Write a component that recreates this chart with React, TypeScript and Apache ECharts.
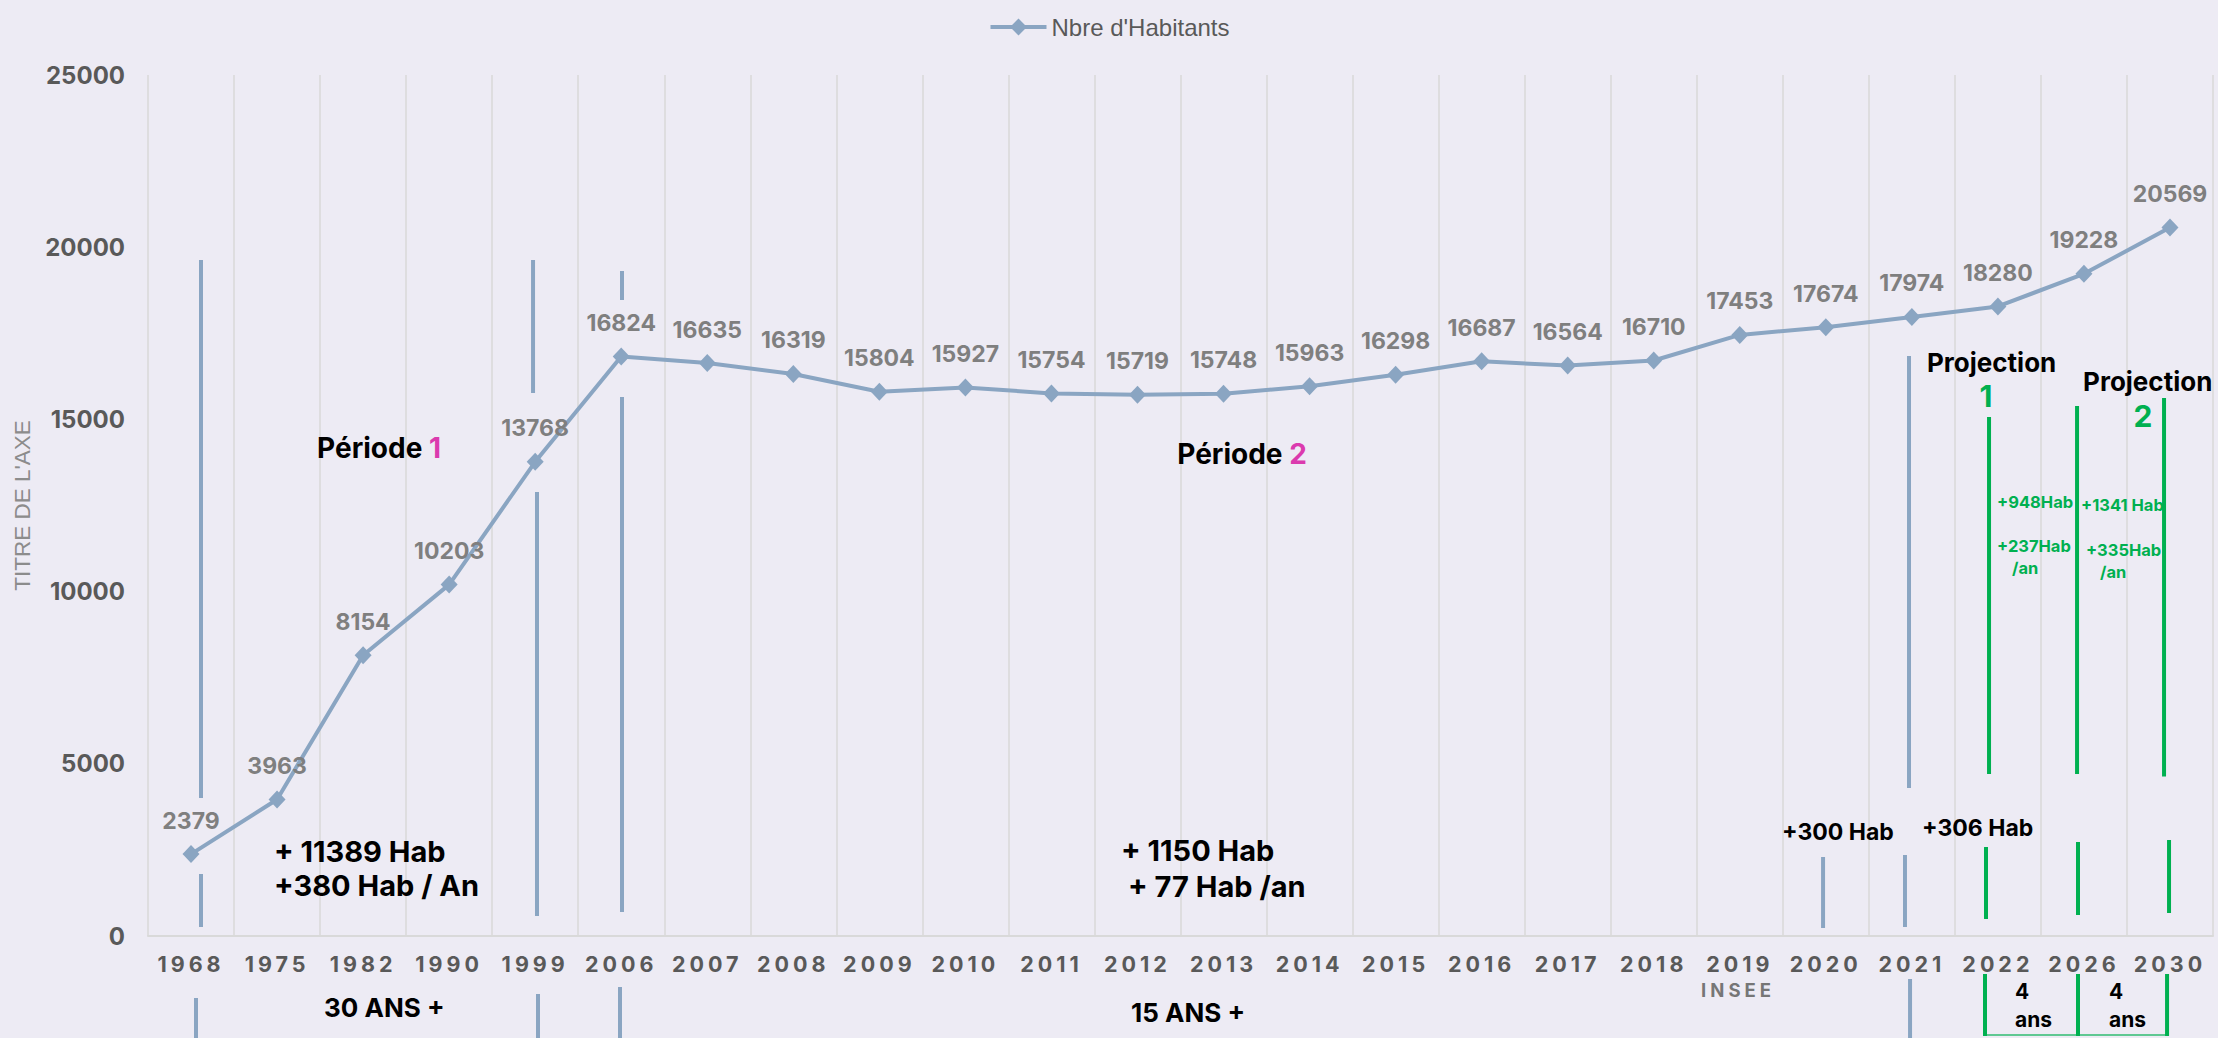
import React, { useEffect, useRef } from "react";
import * as echarts from "echarts";

// ---------- data ----------
const years = [
  "1968", "1975", "1982", "1990", "1999", "2006", "2007", "2008", "2009", "2010", "2011", "2012",
  "2013", "2014", "2015", "2016", "2017", "2018", "2019", "2020", "2021", "2022", "2026", "2030",
];
const habitants = [
  2379, 3963, 8154, 10203, 13768, 16824, 16635, 16319, 15804, 15927, 15754, 15719,
  15748, 15963, 16298, 16687, 16564, 16710, 17453, 17674, 17974, 18280, 19228, 20569,
];
const seriesName = "Nbre d'Habitants";
const yAxisTitle = "TITRE DE L'AXE";
const yMin = 0;
const yMax = 25000;
const yStep = 5000;

// annotation segments in (category position, value) space: [cat, valueTop, valueBottom]
const blueSegments: [number, number, number][] = [
  [0.116, 19628, 4007],
  [0.116, 1800, 261],
  [0.058, -1800, -3100],
  [3.975, 19628, 15767],
  [4.021, 12892, 581],
  [4.033, -1684, -3100],
  [5.009, 19309, 18467],
  [5.009, 15650, 697],
  [4.986, -1481, -3100],
  [18.968, 2294, 232],
  [19.967, 16841, 4297],
  [19.92, 2352, 261],
  [19.979, -1249, -3100],
];
const greenSegments: [number, number, number][] = [
  [20.897, 15070, 4704],
  [20.862, 2584, 494],
  [21.92, 15389, 4704],
  [21.931, 2729, 610],
  [22.931, 15621, 4629],
  [22.989, 2787, 668],
  [20.85, -1103, -2904],
  [21.931, -1103, -2904],
  [22.966, -1103, -2904],
];
const bracketBase: [number, number, number] = [20.85, 22.966, -2875];

type Note = { c: number; v: number; text: string; size: number; align: "left" | "center"; color?: string };
const blackNotes: Note[] = [
  { c: 0.964, v: 2468, text: "+ 11389 Hab", size: 29, align: "left" },
  { c: 0.964, v: 1452, text: "+380 Hab / An", size: 29, align: "left" },
  { c: 10.809, v: 2497, text: "+ 1150 Hab", size: 29, align: "left" },
  { c: 10.89, v: 1423, text: "+ 77 Hab /an", size: 29, align: "left" },
  { c: 1.546, v: -2062, text: "30 ANS +", size: 26, align: "left" },
  { c: 10.925, v: -2207, text: "15 ANS +", size: 26, align: "left" },
  { c: 18.491, v: 3020, text: "+300 Hab", size: 23, align: "left" },
  { c: 20.118, v: 3136, text: "+306 Hab", size: 23, align: "left" },
  { c: 20.176, v: 16638, text: "Projection", size: 26, align: "left" },
  { c: 21.99, v: 16086, text: "Projection", size: 26, align: "left" },
  { c: 21.199, v: -1597, text: "4", size: 21, align: "left" },
  { c: 21.199, v: -2410, text: "ans", size: 21, align: "left" },
  { c: 22.292, v: -1597, text: "4", size: 21, align: "left" },
  { c: 22.292, v: -2410, text: "ans", size: 21, align: "left" },
];
const greenNotes: Note[] = [
  { c: 20.862, v: 15680, text: "1", size: 30, align: "center" },
  { c: 22.687, v: 15099, text: "2", size: 30, align: "center" },
  { c: 20.99, v: 12602, text: "+948Hab", size: 16.5, align: "left" },
  { c: 20.99, v: 11324, text: "+237Hab", size: 16.5, align: "left" },
  { c: 21.164, v: 10685, text: "/an", size: 16.5, align: "left" },
  { c: 21.966, v: 12515, text: "+1341 Hab", size: 16.5, align: "left" },
  { c: 22.024, v: 11208, text: "+335Hab", size: 16.5, align: "left" },
  { c: 22.187, v: 10569, text: "/an", size: 16.5, align: "left" },
];
const periods = [
  { c: 2.185, v: 14170, label: "Période ", num: "1" },
  { c: 12.215, v: 13995, label: "Période ", num: "2" },
];
const sourceNote = { c: 17.98, v: -1568, text: "INSEE" };

// ---------- styles ----------
const BG = "#EDEBF4";
const LINE = "#8AA5C2";
const GREEN = "#00B050";
const MAGENTA = "#DB3AAE";
const FONT = "Inter, 'Noto Sans', sans-serif";
const LIGHT_FONT = "'Liberation Sans', Arial, sans-serif";

const option: any = {
  animation: false,
  backgroundColor: BG,
  textStyle: { fontFamily: FONT },
  legend: {
    top: 10,
    left: "center",
    itemWidth: 56,
    itemHeight: 21,
    lineStyle: { width: 4 },
    textStyle: { fontFamily: LIGHT_FONT, fontWeight: "normal", fontSize: 24, color: "#595959" },
    data: [seriesName],
  },
  grid: { left: 148, right: 5, top: 75, bottom: 102, containLabel: false },
  xAxis: {
    type: "category",
    data: years,
    boundaryGap: true,
    axisLine: { lineStyle: { color: "#D9D9D9", width: 2 } },
    axisTick: { show: false },
    axisLabel: {
      interval: 0,
      margin: 17,
      fontFamily: FONT,
      fontWeight: "bold",
      fontSize: 21.5,
      color: "#595959",
    },
    splitLine: { show: true, interval: 0, lineStyle: { color: "#D9D9D9", width: 1.5 } },
  },
  yAxis: {
    type: "value",
    min: yMin,
    max: yMax,
    interval: yStep,
    name: yAxisTitle,
    nameLocation: "middle",
    nameRotate: 90,
    nameGap: 110,
    nameTextStyle: { fontFamily: LIGHT_FONT, fontWeight: "normal", fontSize: 22.5, color: "#8C8C8C" },
    axisLine: { show: false },
    axisTick: { show: false },
    splitLine: { show: false },
    axisLabel: {
      margin: 23,
      fontFamily: FONT,
      fontWeight: "bold",
      fontSize: 24,
      color: "#595959",
      formatter: (v: number) => String(v),
    },
  },
  series: [
    {
      name: seriesName,
      type: "line",
      data: habitants,
      symbol: "diamond",
      symbolSize: [17, 18],
      itemStyle: { color: LINE },
      lineStyle: { color: LINE, width: 4 },
      label: {
        show: true,
        position: "top",
        distance: 13,
        fontFamily: FONT,
        fontWeight: "bold",
        fontSize: 23,
        color: "#7F7F7F",
      },
      z: 3,
    },
  ],
};

function buildGraphic(chart: any) {
  const x0 = chart.convertToPixel({ xAxisIndex: 0 }, 0);
  const x1 = chart.convertToPixel({ xAxisIndex: 0 }, 1);
  const w = x1 - x0;
  const px = (c: number) => x0 + c * w;
  const py = (v: number) => chart.convertToPixel({ yAxisIndex: 0 }, v);
  const els: any[] = [];
  const seg = (s: [number, number, number], color: string) => ({
    type: "line",
    z: 20,
    shape: { x1: px(s[0]), y1: py(s[1]), x2: px(s[0]), y2: py(s[2]) },
    style: { stroke: color, lineWidth: 4 },
  });
  blueSegments.forEach((s) => els.push(seg(s, LINE)));
  greenSegments.forEach((s) => els.push(seg(s, GREEN)));
  els.push({
    type: "line",
    z: 20,
    shape: { x1: px(bracketBase[0]), y1: py(bracketBase[2]), x2: px(bracketBase[1]), y2: py(bracketBase[2]) },
    style: { stroke: GREEN, lineWidth: 2, opacity: 0.6 },
  });
  const txt = (n: Note, color: string) => ({
    type: "text",
    z: 25,
    x: px(n.c),
    y: py(n.v),
    style: {
      text: n.text,
      fill: color,
      fontFamily: FONT,
      fontWeight: "bold",
      fontSize: n.size,
      align: n.align,
      verticalAlign: "middle",
    },
  });
  blackNotes.forEach((n) => els.push(txt(n, "#000000")));
  greenNotes.forEach((n) => els.push(txt(n, GREEN)));
  periods.forEach((p) =>
    els.push({
      type: "text",
      z: 25,
      x: px(p.c),
      y: py(p.v),
      style: {
        text: `{k|${p.label}}{m|${p.num}}`,
        align: "center",
        verticalAlign: "middle",
        rich: {
          k: { fontFamily: FONT, fontWeight: "bold", fontSize: 28, fill: "#000000", color: "#000000" },
          m: { fontFamily: FONT, fontWeight: "bold", fontSize: 28, fill: MAGENTA, color: MAGENTA },
        },
      },
    })
  );
  els.push({
    type: "text",
    z: 25,
    x: px(sourceNote.c),
    y: py(sourceNote.v),
    style: {
      text: sourceNote.text,
      fill: "#767676",
      fontFamily: FONT,
      fontWeight: "bold",
      fontSize: 18.5,
      align: "center",
      verticalAlign: "middle",
    },
  });
  return els;
}

export default function App() {
  const ref = useRef<HTMLDivElement>(null);
  useEffect(() => {
    document.body.style.margin = "0";
    document.body.style.background = BG;
    const chart = echarts.init(ref.current!, null, { renderer: "svg" });
    chart.setOption(option);
    chart.setOption({ graphic: buildGraphic(chart) });
    return () => chart.dispose();
  }, []);
  return (
    <>
      <style>{"text[style*='21.5px']{letter-spacing:4px}text[style*='18.5px']{letter-spacing:4px}"}</style>
      <div ref={ref} style={{ width: 2218, height: 1038 }} />
    </>
  );
}
